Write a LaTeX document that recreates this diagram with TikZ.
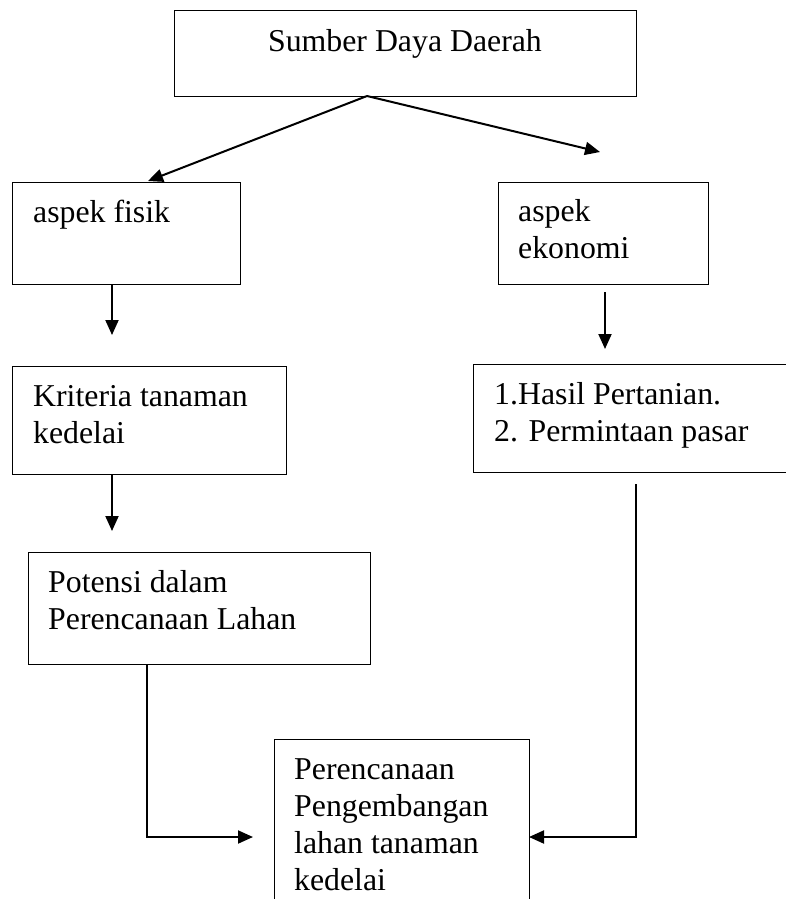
\documentclass[tikz,border=0pt]{standalone}
\usepackage{fontspec}
\setmainfont{Liberation Serif}
\usetikzlibrary{arrows.meta,calc}
\newcommand{\mylines}[1]{\parbox[t]{12cm}{\raggedright #1}}
\begin{document}
\begin{tikzpicture}[x=1pt,y=-1pt,
  box/.style={draw,line width=1.3pt,rectangle,inner sep=0pt},
  txt/.style={inner sep=0pt,anchor=base west,font=\fontsize{31.8}{37.3}\selectfont},
  arr/.style={line width=2pt,-{Triangle[length=15pt,width=13pt]}},
  thin/.style={line width=1.2pt}]
\useasboundingbox (0,0) rectangle (786,899);
% boxes
\node[box,minimum width=462pt,minimum height=86pt,anchor=north west] (sdd) at (174,10) {};
\node[box,minimum width=228pt,minimum height=102pt,anchor=north west] (fis) at (12,182) {};
\node[box,minimum width=210pt,minimum height=102pt,anchor=north west] (eko) at (498,182) {};
\node[box,minimum width=274pt,minimum height=108pt,anchor=north west] (kri) at (12,366) {};
\node[box,minimum width=340pt,minimum height=108pt,anchor=north west] (has) at (473,364) {};
\node[box,minimum width=342pt,minimum height=112pt,anchor=north west] (pot) at (28,552) {};
\node[box,minimum width=255pt,minimum height=200pt,anchor=north west] (ppl) at (274,739) {};
% texts
\node[txt,anchor=base] (tsdd) at (405,52) {Sumber Daya Daerah};
\node[txt] (tfis) at (33,222) {aspek fisik};
\node[txt] (teko) at (518,221) {\mylines{aspek\\ekonomi}};
\node[txt] (tkri) at (33,406) {\mylines{Kriteria tanaman\\kedelai}};
\node[txt] (thas) at (494,404) {\mylines{1.Hasil Pertanian.\\2. Permintaan pasar}};
\node[txt] (tpot) at (48,592) {\mylines{Potensi dalam\\Perencanaan Lahan}};
\node[txt] (tppl) at (294,779) {\mylines{Perencanaan\\Pengembangan\\lahan tanaman\\kedelai}};
% coordinates
\coordinate (s0) at (367,96);
\coordinate (e1) at (148,181);
\coordinate (e2) at (600,152);
\coordinate (fa) at (112,284);
\coordinate (fb) at (112,335);
\coordinate (ka) at (605,292);
\coordinate (kb) at (605,349);
\coordinate (ra) at (112,474);
\coordinate (rb) at (112,531);
\coordinate (pa) at (147,664);
\coordinate (pc) at (147,837);
\coordinate (pe) at (253,837);
\coordinate (ha) at (636,484);
\coordinate (hc) at (636,837);
\coordinate (he) at (529,837);
% connectors
\draw[arr] (s0) -- (e1);
\draw[arr] (s0) -- (e2);
\draw[arr] (fa) -- (fb);
\draw[arr] (ka) -- (kb);
\draw[arr] (ra) -- (rb);
\draw[thin] (pa) -- (pc);
\draw[arr] ($(pc)+(-0.6,0)$) -- (pe);
\draw[thin] (ha) -- (hc);
\draw[arr] ($(hc)+(0.6,0)$) -- (he);
\end{tikzpicture}
\end{document}
